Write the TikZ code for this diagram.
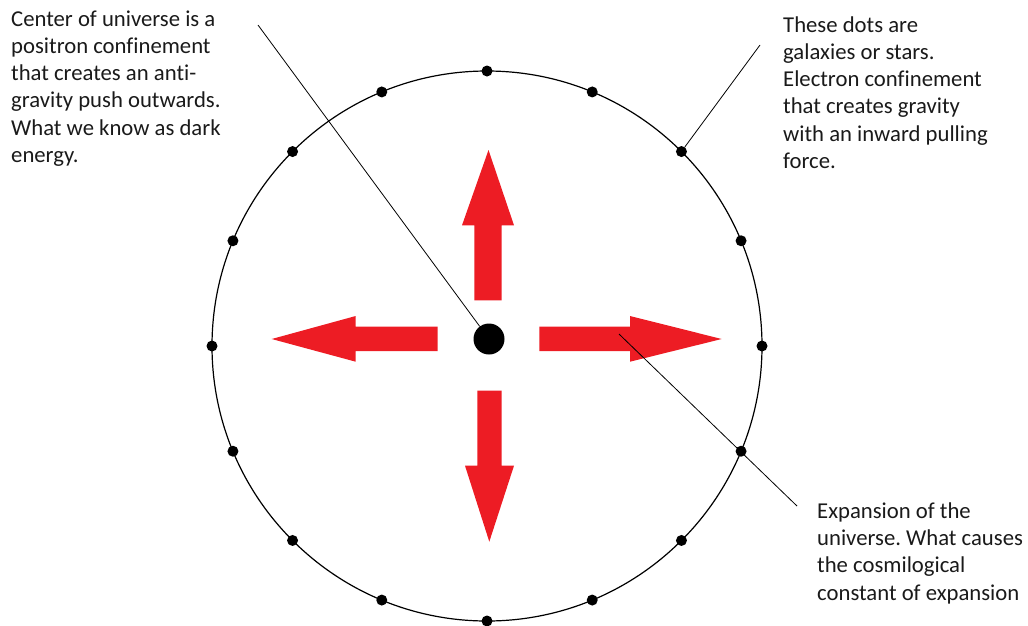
\documentclass[tikz,border=0pt]{standalone}
\usepackage{fontspec}
\setmainfont{Carlito}[Ligatures={NoCommon}]
\frenchspacing
\definecolor{arrred}{HTML}{ED1C24}
\definecolor{txt}{HTML}{1A1A1A}
\begin{document}
\begin{tikzpicture}[x=1pt,y=-1pt,
  note/.style={align=left,anchor=base west,inner sep=0pt,text=txt,font=\fontsize{22.7}{27.3}\selectfont},
  star/.style={circle,fill=black,inner sep=0pt,minimum size=11pt},
  core/.style={circle,fill=black,inner sep=0pt,minimum size=31pt},
  bigarrow/.style={fill=arrred,draw=none},
  ring/.style={draw=black,line width=1.2pt},
  leader/.style={draw=black,line width=0.8pt}]
\useasboundingbox (0,0) rectangle (1028,625);
% ring of galaxies
\draw[ring] (487,346) circle [radius=275];
\foreach \i in {0,...,15}{
  \node[star] (d\i) at ({487+275*cos(90-22.5*\i)},{346-275*sin(90-22.5*\i)}) {};
}
% centre
\node[core] (c) at (489,339) {};
% arrows
\fill[bigarrow] (474.3,300.3) -- (474.3,225.3) -- (462,225.3) -- (488.5,150) -- (514,225.3) -- (501.7,225.3) -- (501.7,300.3) -- cycle;
\fill[bigarrow] (477.3,390.7) -- (501.7,390.7) -- (501.7,465.7) -- (514,465.7) -- (489.3,541.7) -- (465,465.7) -- (477.3,465.7) -- cycle;
\fill[bigarrow] (437.7,326.7) -- (355.7,326.7) -- (355.7,316) -- (271.7,339) -- (355.7,361.7) -- (355.7,351) -- (437.7,351) -- cycle;
\fill[bigarrow] (539.3,326.7) -- (630,326.7) -- (630,316) -- (721.7,339) -- (630,361.7) -- (630,351) -- (539.3,351) -- cycle;
% texts (anchored at the baseline of their last line)
\node[note] (t1) at (11,162.5) {Center of universe is a\\positron confinement\\that creates an anti-\\gravity push outwards.\\What we know as dark\\energy.};
\node[note] (t2) at (783,168.5) {These dots are\\galaxies or stars.\\Electron confinement\\that creates gravity\\with an inward pulling\\force.};
\node[note] (t3) at (817,600) {Expansion of the\\universe. What causes\\the cosmilogical\\constant of expansion};
% leaders
\coordinate (p1) at (258,25);
\coordinate (p2) at (760,45);
\coordinate (p3a) at (619,334);
\coordinate (p3b) at (797,506);
\draw[leader] (p1) -- (c);
\draw[leader] (d2) -- (p2);
\draw[leader] (p3a) -- (p3b);
\end{tikzpicture}
\end{document}
